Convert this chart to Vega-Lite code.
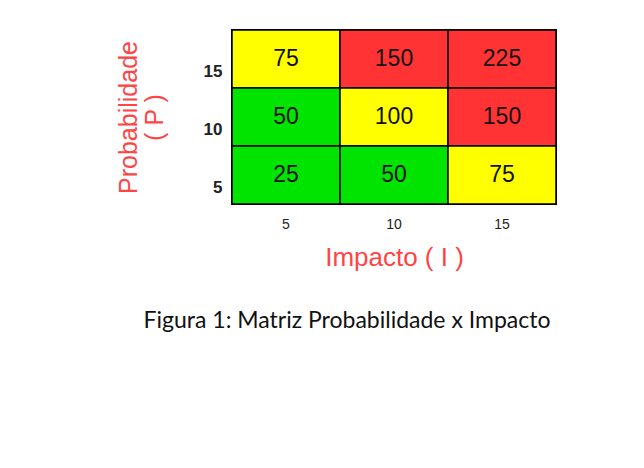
{
  "$schema": "https://vega.github.io/schema/vega-lite/v6.json",
  "autosize": "none",
  "width": 324,
  "height": 174,
  "padding": {"left": 232, "top": 30, "right": 88, "bottom": 264},
  "background": "white",
  "title": {
    "text": "Figura 1: Matriz Probabilidade x Impacto",
    "orient": "bottom",
    "anchor": "middle",
    "frame": "group",
    "dx": -47,
    "offset": 40,
    "font": "Lato",
    "fontSize": 23,
    "fontWeight": "normal",
    "color": "#111111"
  },
  "data": {
    "values": [
      {"impacto": "5", "probabilidade": "15", "valor": 75, "nivel": "médio"},
      {"impacto": "10", "probabilidade": "15", "valor": 150, "nivel": "alto"},
      {"impacto": "15", "probabilidade": "15", "valor": 225, "nivel": "alto"},
      {"impacto": "5", "probabilidade": "10", "valor": 50, "nivel": "baixo"},
      {"impacto": "10", "probabilidade": "10", "valor": 100, "nivel": "médio"},
      {"impacto": "15", "probabilidade": "10", "valor": 150, "nivel": "alto"},
      {"impacto": "5", "probabilidade": "5", "valor": 25, "nivel": "baixo"},
      {"impacto": "10", "probabilidade": "5", "valor": 50, "nivel": "baixo"},
      {"impacto": "15", "probabilidade": "5", "valor": 75, "nivel": "médio"}
    ]
  },
  "encoding": {
    "x": {
      "field": "impacto",
      "type": "nominal",
      "sort": ["5", "10", "15"],
      "scale": {"paddingInner": 0, "paddingOuter": 0},
      "axis": {
        "title": "Impacto ( I )",
        "titleColor": "#ff4444",
        "titleFont": "Liberation Sans",
        "titleFontSize": 26,
        "titleFontWeight": "normal",
        "titlePadding": 13,
        "labelAngle": 0,
        "labelFont": "Liberation Sans",
        "labelFontSize": 14,
        "labelColor": "#222222",
        "labelPadding": 13,
        "domain": false,
        "ticks": false,
        "grid": false
      }
    },
    "y": {
      "field": "probabilidade",
      "type": "nominal",
      "sort": ["15", "10", "5"],
      "scale": {"paddingInner": 0, "paddingOuter": 0},
      "axis": {
        "title": ["Probabilidade", "( P )"],
        "titleColor": "#ff4444",
        "titleFont": "Liberation Sans",
        "titleFontSize": 25,
        "titleFontWeight": "normal",
        "titlePadding": 36,
        "titleLineHeight": 26,
        "labelFont": "Liberation Sans",
        "labelFontSize": 17,
        "labelFontWeight": "bold",
        "labelColor": "#222222",
        "labelPadding": 10,
        "labelOffset": 13,
        "domain": false,
        "ticks": false,
        "grid": false
      }
    }
  },
  "layer": [
    {
      "mark": {"type": "rect", "stroke": "black", "strokeWidth": 1.5},
      "encoding": {
        "color": {
          "field": "nivel",
          "type": "nominal",
          "scale": {"domain": ["alto", "médio", "baixo"], "range": ["#ff3333", "#ffff00", "#00e400"]},
          "legend": null
        }
      }
    },
    {
      "mark": {"type": "text", "font": "Liberation Sans", "fontSize": 23, "color": "#111111"},
      "encoding": {
        "text": {"field": "valor", "type": "quantitative"}
      }
    }
  ],
  "config": {"view": {"stroke": "black", "strokeWidth": 2}}
}
